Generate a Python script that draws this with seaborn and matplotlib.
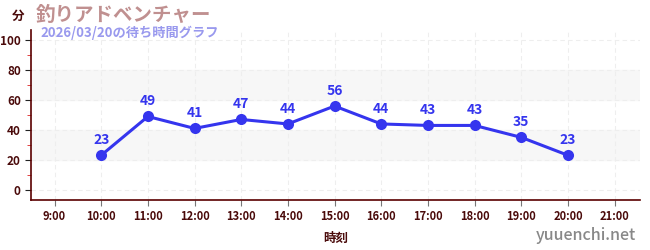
import matplotlib
matplotlib.use("Agg")
import matplotlib.pyplot as plt
import seaborn as sns
import pandas as pd
from matplotlib.ticker import MultipleLocator

hours = [10, 11, 12, 13, 14, 15, 16, 17, 18, 19, 20]
waits = [23, 49, 41, 47, 44, 56, 44, 43, 43, 35, 23]
tick_hours = list(range(9, 22))
tick_labels = [f"{h}:00" for h in tick_hours]
title = "釣りアドベンチャー"
subtitle = "2026/03/20の待ち時間グラフ"

sns.set_style("white")
plt.rcParams['font.family'] = ['Noto Sans CJK JP', 'DejaVu Sans']

df = pd.DataFrame({"hour": hours, "wait": waits})

fig = plt.figure(figsize=(6.5, 2.5), dpi=100)
ax = fig.add_axes([0.048, 0.2, 0.937, 0.68])

for lo, hi in [(20, 40), (60, 80)]:
    ax.axhspan(lo, hi, color="#f7f7f7", zorder=0)

sns.lineplot(data=df, x="hour", y="wait", ax=ax, color="#3535ee", linewidth=2.2,
             marker="o", markersize=8, markeredgewidth=0, zorder=3)
for h, w in zip(hours, waits):
    ax.annotate(str(w), (h, w), xytext=(0, 6), textcoords="offset points",
                ha="center", va="bottom", color="#3535ee", fontsize=10, fontweight="bold")

ax.set_xlim(8.5, 21.55)
ax.set_ylim(-7, 107)
ax.set_xticks(tick_hours)
ax.set_xticklabels(tick_labels)
ax.set_yticks([0, 20, 40, 60, 80, 100])
ax.yaxis.set_minor_locator(MultipleLocator(10))
ax.grid(True, which="major", color="#eeeeee", linestyle=(0, (4, 3)), linewidth=0.8)
ax.set_axisbelow(True)

for s in ["top", "right"]:
    ax.spines[s].set_visible(False)
for s in ["left", "bottom"]:
    ax.spines[s].set_color("#5a0000")
    ax.spines[s].set_linewidth(1.2)

ax.tick_params(axis="y", which="major", length=4, color="#222222", labelsize=8.5,
               labelcolor="#4a0a0a", left=True, direction="out")
ax.tick_params(axis="y", which="minor", length=3, color="#dd2222", left=True)
ax.tick_params(axis="x", which="major", length=4, color="#777777", labelsize=8,
               labelcolor="#4a0a0a", bottom=True)
for lbl in ax.get_xticklabels() + ax.get_yticklabels():
    lbl.set_fontweight("bold")

ax.set_xlabel("時刻", color="#4a0a0a", fontsize=9, fontweight="bold", labelpad=6)
ax.set_ylabel("")

fig.text(0.018, 0.935, "分", color="#4a0a0a", fontsize=9, fontweight="bold", va="center")
fig.text(0.055, 0.94, title, color="#c09090", fontsize=14, fontweight="bold", va="center")
fig.text(0.063, 0.87, subtitle, color="#9999ee", fontsize=9.5, fontweight="bold", va="center")
fig.text(0.978, 0.06, "yuuenchi.net", color="#888888", fontsize=11.5, fontweight="medium",
         ha="right", va="center")

fig.savefig("out.png", dpi=100)
